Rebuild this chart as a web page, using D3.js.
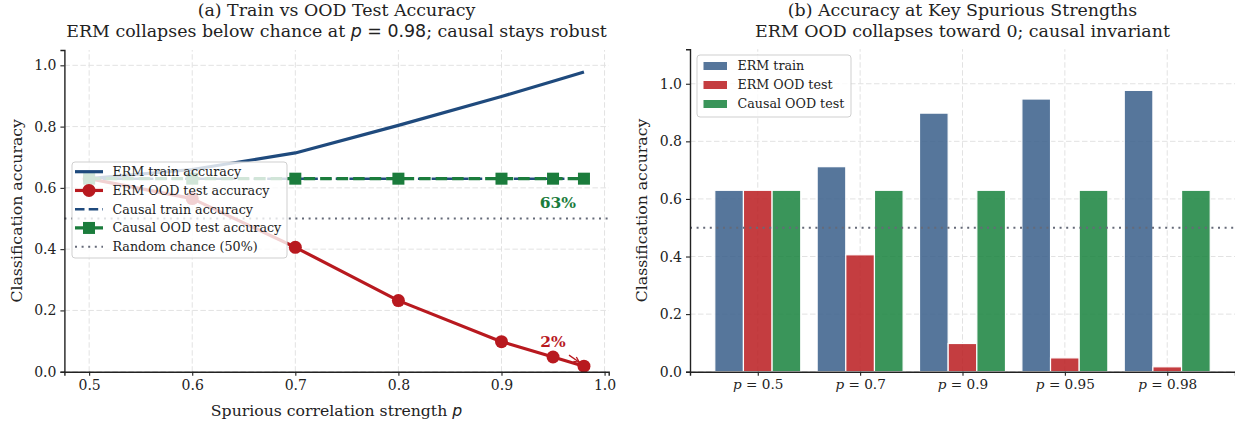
<!DOCTYPE html>
<html><head><meta charset="utf-8">
<script src="https://cdn.jsdelivr.net/npm/d3@7"></script>
<style>
body{margin:0;background:#fff}
svg{display:block}
text{font-family:"DejaVu Serif";fill:#222}
</style>
</head><body>
<svg id="c" width="1235" height="424"></svg>
<script>
// ---------- data ----------
const pValues      = [0.5, 0.6, 0.7, 0.8, 0.9, 0.95, 0.98];
const ermTrain     = [0.63, 0.66, 0.714, 0.804, 0.898, 0.948, 0.978];
const ermOOD       = [0.63, 0.565, 0.406, 0.232, 0.098, 0.048, 0.018];
const causalTrain  = [0.63, 0.63, 0.63, 0.63, 0.63, 0.63, 0.63];
const causalOOD    = [0.63, 0.63, 0.63, 0.63, 0.63, 0.63, 0.63];
const chanceLevel  = 0.5;
const xTicksLeft   = [0.5, 0.6, 0.7, 0.8, 0.9, 1.0];
const yTicks       = [0.0, 0.2, 0.4, 0.6, 0.8, 1.0];
const keyP         = ["0.5", "0.7", "0.9", "0.95", "0.98"];
const barErmTrain  = [0.63, 0.712, 0.898, 0.947, 0.977];
const barErmOOD    = [0.63, 0.406, 0.098, 0.048, 0.017];
const barCausalOOD = [0.63, 0.63, 0.63, 0.63, 0.63];
const legendLeft   = ["ERM train accuracy", "ERM OOD test accuracy", "Causal train accuracy", "Causal OOD test accuracy", "Random chance (50%)"];
const legendRight  = ["ERM train", "ERM OOD test", "Causal OOD test"];

// ---------- style ----------
const C = {navy:"#1f4a7d", red:"#b8191f", green:"#1b7c3c", chance:"#656a78",
           barBlue:"#385e8a", barRed:"#ba1b1e", barGreen:"#17823d",
           grid:"#e2e2e2", spine:"#222"};
const svg = d3.select("#c");
svg.append("rect").attr("width",1235).attr("height",424).attr("fill","#fff");

function gridAndAxes(g, x, y, xt, yt){
  const [x0,x1] = x.range(), [y0,y1] = y.range();
  g.append("g").selectAll("line").data(yt).join("line")
    .attr("x1",x0).attr("x2",x1).attr("y1",d=>y(d)).attr("y2",d=>y(d))
    .attr("stroke",C.grid).attr("stroke-width",1).attr("stroke-dasharray","5.5,2.5");
  g.append("g").selectAll("line").data(xt).join("line")
    .attr("y1",y0).attr("y2",y1).attr("x1",d=>x(d)).attr("x2",d=>x(d))
    .attr("stroke",C.grid).attr("stroke-width",1).attr("stroke-dasharray","5.5,2.5");
}
function drawAxes(g, x, y, xt, yt, xfmt, yfmt){
  const [y0] = y.range();
  const [x0] = x.range();
  const ax = g.append("g").attr("transform",`translate(0,${y0})`)
    .call(d3.axisBottom(x).tickValues(xt).tickFormat(xfmt).tickSizeOuter(0).tickSize(4).tickPadding(4));
  const ay = g.append("g").attr("transform",`translate(${x0},0)`)
    .call(d3.axisLeft(y).tickValues(yt).tickFormat(yfmt).tickSizeOuter(0).tickSize(4).tickPadding(4));
  [ax,ay].forEach(a=>{
    a.select(".domain").attr("stroke",C.spine).attr("stroke-width",1.4);
    a.selectAll(".tick line").attr("stroke",C.spine).attr("stroke-width",1.1);
    a.selectAll(".tick text").attr("font-family","DejaVu Serif").attr("font-size",14).attr("fill","#222");
  });
  return ax;
}

// ================= LEFT PANEL =================
const xL = d3.scaleLinear().domain([0.476, 1.004]).range([64.4, 608.7]);
const yL = d3.scaleLinear().domain([0, 1.05]).range([371.7, 50]);
const gL = svg.append("g");
gridAndAxes(gL, xL, yL, xTicksLeft, yTicks);

gL.append("line").attr("x1",xL.range()[0]).attr("x2",xL.range()[1])
  .attr("y1",yL(chanceLevel)).attr("y2",yL(chanceLevel))
  .attr("stroke",C.chance).attr("stroke-width",2).attr("stroke-dasharray","2,4.6");

const pts = arr => pValues.map((p,i)=>[xL(p), yL(arr[i])]);
const line = d3.line();
gL.append("path").attr("d",line(pts(ermTrain))).attr("fill","none")
  .attr("stroke",C.navy).attr("stroke-width",3.2).attr("stroke-linejoin","round");
gL.append("path").attr("d",line(pts(ermOOD))).attr("fill","none")
  .attr("stroke",C.red).attr("stroke-width",3.2).attr("stroke-linejoin","round");
gL.append("g").selectAll("circle").data(pts(ermOOD)).join("circle")
  .attr("cx",d=>d[0]).attr("cy",d=>d[1]).attr("r",6.5).attr("fill",C.red);
gL.append("path").attr("d",line(pts(causalTrain))).attr("fill","none")
  .attr("stroke",C.navy).attr("stroke-width",2.6).attr("stroke-dasharray","9.5,4.2");
gL.append("path").attr("d",line(pts(causalOOD))).attr("fill","none")
  .attr("stroke",C.green).attr("stroke-width",3.2).attr("stroke-dasharray","11.5,5");
gL.append("g").selectAll("rect").data(pts(causalOOD)).join("rect")
  .attr("x",d=>d[0]-6).attr("y",d=>d[1]-6).attr("width",12).attr("height",12).attr("fill",C.green);

drawAxes(gL, xL, yL, xTicksLeft, yTicks, d3.format(".1f"), d3.format(".1f"));

gL.append("text").attr("x",xL(0.9547)).attr("y",yL(0.535)).attr("text-anchor","middle")
  .attr("font-weight","bold").attr("font-size",15.5).style("fill",C.green).text("63%");
gL.append("text").attr("x",xL(0.950)).attr("y",yL(0.08)).attr("text-anchor","middle")
  .attr("font-weight","bold").attr("font-size",15.5).style("fill",C.red).text("2%");
{
  const tx = xL(0.9655), ty = yL(0.054), ex = xL(0.9755), ey = yL(0.031);
  gL.append("line").attr("x1",tx).attr("y1",ty).attr("x2",ex).attr("y2",ey)
    .attr("stroke",C.red).attr("stroke-width",1.3);
  const ang = Math.atan2(ey-ty, ex-tx), L = 6;
  [-0.45,0.45].forEach(a=>{
    gL.append("line").attr("x1",ex).attr("y1",ey)
      .attr("x2",ex - L*Math.cos(ang+a)).attr("y2",ey - L*Math.sin(ang+a))
      .attr("stroke",C.red).attr("stroke-width",1.3);
  });
}

{
  const lg = gL.append("g");
  lg.append("rect").attr("x",72).attr("y",162).attr("width",215).attr("height",96).attr("rx",3)
    .attr("fill","#fff").attr("fill-opacity",0.8).attr("stroke","#cfcfcf").attr("stroke-width",1);
  const rows = legendLeft.map((t,i)=>({t, y:171.7 + i*18.75}));
  const hx0 = 75, hx1 = 103, hc = 89;
  rows.forEach((r,i)=>{
    if(i===0) lg.append("line").attr("x1",hx0).attr("x2",hx1).attr("y1",r.y).attr("y2",r.y).attr("stroke",C.navy).attr("stroke-width",3.2);
    if(i===1){ lg.append("line").attr("x1",hx0).attr("x2",hx1).attr("y1",r.y).attr("y2",r.y).attr("stroke",C.red).attr("stroke-width",3.2);
      lg.append("circle").attr("cx",hc).attr("cy",r.y).attr("r",6.5).attr("fill",C.red); }
    if(i===2) lg.append("line").attr("x1",hx0).attr("x2",hx1).attr("y1",r.y).attr("y2",r.y).attr("stroke",C.navy).attr("stroke-width",2.6).attr("stroke-dasharray","9.5,4.2");
    if(i===3){ lg.append("line").attr("x1",hx0).attr("x2",hx1).attr("y1",r.y).attr("y2",r.y).attr("stroke",C.green).attr("stroke-width",3.2).attr("stroke-dasharray","11.5,5");
      lg.append("rect").attr("x",hc-6).attr("y",r.y-6).attr("width",12).attr("height",12).attr("fill",C.green); }
    if(i===4) lg.append("line").attr("x1",hx0).attr("x2",hx1).attr("y1",r.y).attr("y2",r.y).attr("stroke",C.chance).attr("stroke-width",2).attr("stroke-dasharray","2,4.6");
    lg.append("text").attr("x",112.5).attr("y",r.y).attr("dy","0.35em").attr("font-size",12.7).text(r.t);
  });
}

function mathTitle(g, x, y, parts, size){
  const t = g.append("text").attr("x",x).attr("y",y).attr("text-anchor","middle").attr("font-size",size);
  parts.forEach(p=>{
    const s = t.append("tspan").text(p.t);
    if(p.m) s.attr("font-family","DejaVu Sans");
    if(p.i) s.attr("font-style","italic");
  });
  return t;
}
const cxL = (xL.range()[0]+xL.range()[1])/2;
mathTitle(svg, cxL, 16, [{t:"(a) Train vs OOD Test Accuracy"}], 17.4);
mathTitle(svg, cxL, 37, [{t:"ERM collapses below chance at "},{t:"p",m:1,i:1},{t:" = 0.98",m:1},{t:"; causal stays robust"}], 17.4);
mathTitle(svg, cxL, 416, [{t:"Spurious correlation strength "},{t:"p",m:1,i:1}], 15.7);
svg.append("text").attr("transform",`translate(22,${(371.7+50)/2}) rotate(-90)`).attr("text-anchor","middle")
  .attr("font-size",15.7).text("Classification accuracy");

// ================= RIGHT PANEL =================
const xR = d3.scaleLinear().domain([-0.662, 4.662]).range([690, 1235]);
const yR = d3.scaleLinear().domain([0, 1.12]).range([371.7, 49.2]);
const gR = svg.append("g");
const idx = keyP.map((d,i)=>i);
gridAndAxes(gR, xR, yR, idx, yTicks);

const bw = 0.28;
const series = [
  {vals:barErmTrain, off:-bw, col:C.barBlue},
  {vals:barErmOOD,   off:0,   col:C.barRed},
  {vals:barCausalOOD,off:bw,  col:C.barGreen}];
series.forEach(s=>{
  gR.append("g").selectAll("rect").data(s.vals).join("rect")
    .attr("x",(d,i)=>xR(i+s.off-bw/2)).attr("width",xR(bw)-xR(0))
    .attr("y",d=>yR(d)).attr("height",d=>yR(0)-yR(d))
    .attr("fill",s.col).attr("fill-opacity",0.85).attr("stroke","#fff").attr("stroke-width",1.2);
});
gR.append("line").attr("x1",xR.range()[0]).attr("x2",xR.range()[1])
  .attr("y1",yR(chanceLevel)).attr("y2",yR(chanceLevel))
  .attr("stroke",C.chance).attr("stroke-width",2).attr("stroke-dasharray","2,4.6");

const axR = drawAxes(gR, xR, yR, idx, yTicks, ()=>"", d3.format(".1f"));
axR.selectAll(".tick").each(function(d){
  const t = d3.select(this).select("text").text(null).attr("font-family","DejaVu Sans").attr("font-size",13.6).attr("dy","0.71em");
  t.append("tspan").attr("font-style","italic").text("p");
  t.append("tspan").text(" = " + keyP[d]);
});

{
  const lg = gR.append("g");
  lg.append("rect").attr("x",697).attr("y",55).attr("width",154).attr("height",62).attr("rx",3)
    .attr("fill","#fff").attr("fill-opacity",0.8).attr("stroke","#cfcfcf").attr("stroke-width",1);
  legendRight.forEach((t,i)=>{
    const y = 66 + i*19;
    lg.append("rect").attr("x",703.5).attr("y",y-4).attr("width",23.5).attr("height",8)
      .attr("fill",series[i].col).attr("fill-opacity",0.85);
    lg.append("text").attr("x",737.5).attr("y",y).attr("dy","0.35em").attr("font-size",12.7).text(t);
  });
}
const cxR = (xR.range()[0]+xR.range()[1])/2;
mathTitle(svg, cxR, 16, [{t:"(b) Accuracy at Key Spurious Strengths"}], 17.4);
mathTitle(svg, cxR, 37, [{t:"ERM OOD collapses toward 0; causal invariant"}], 17.4);
svg.append("text").attr("transform",`translate(647,${(371.7+49.2)/2}) rotate(-90)`).attr("text-anchor","middle")
  .attr("font-size",15.7).text("Classification accuracy");
</script>
</body></html>
